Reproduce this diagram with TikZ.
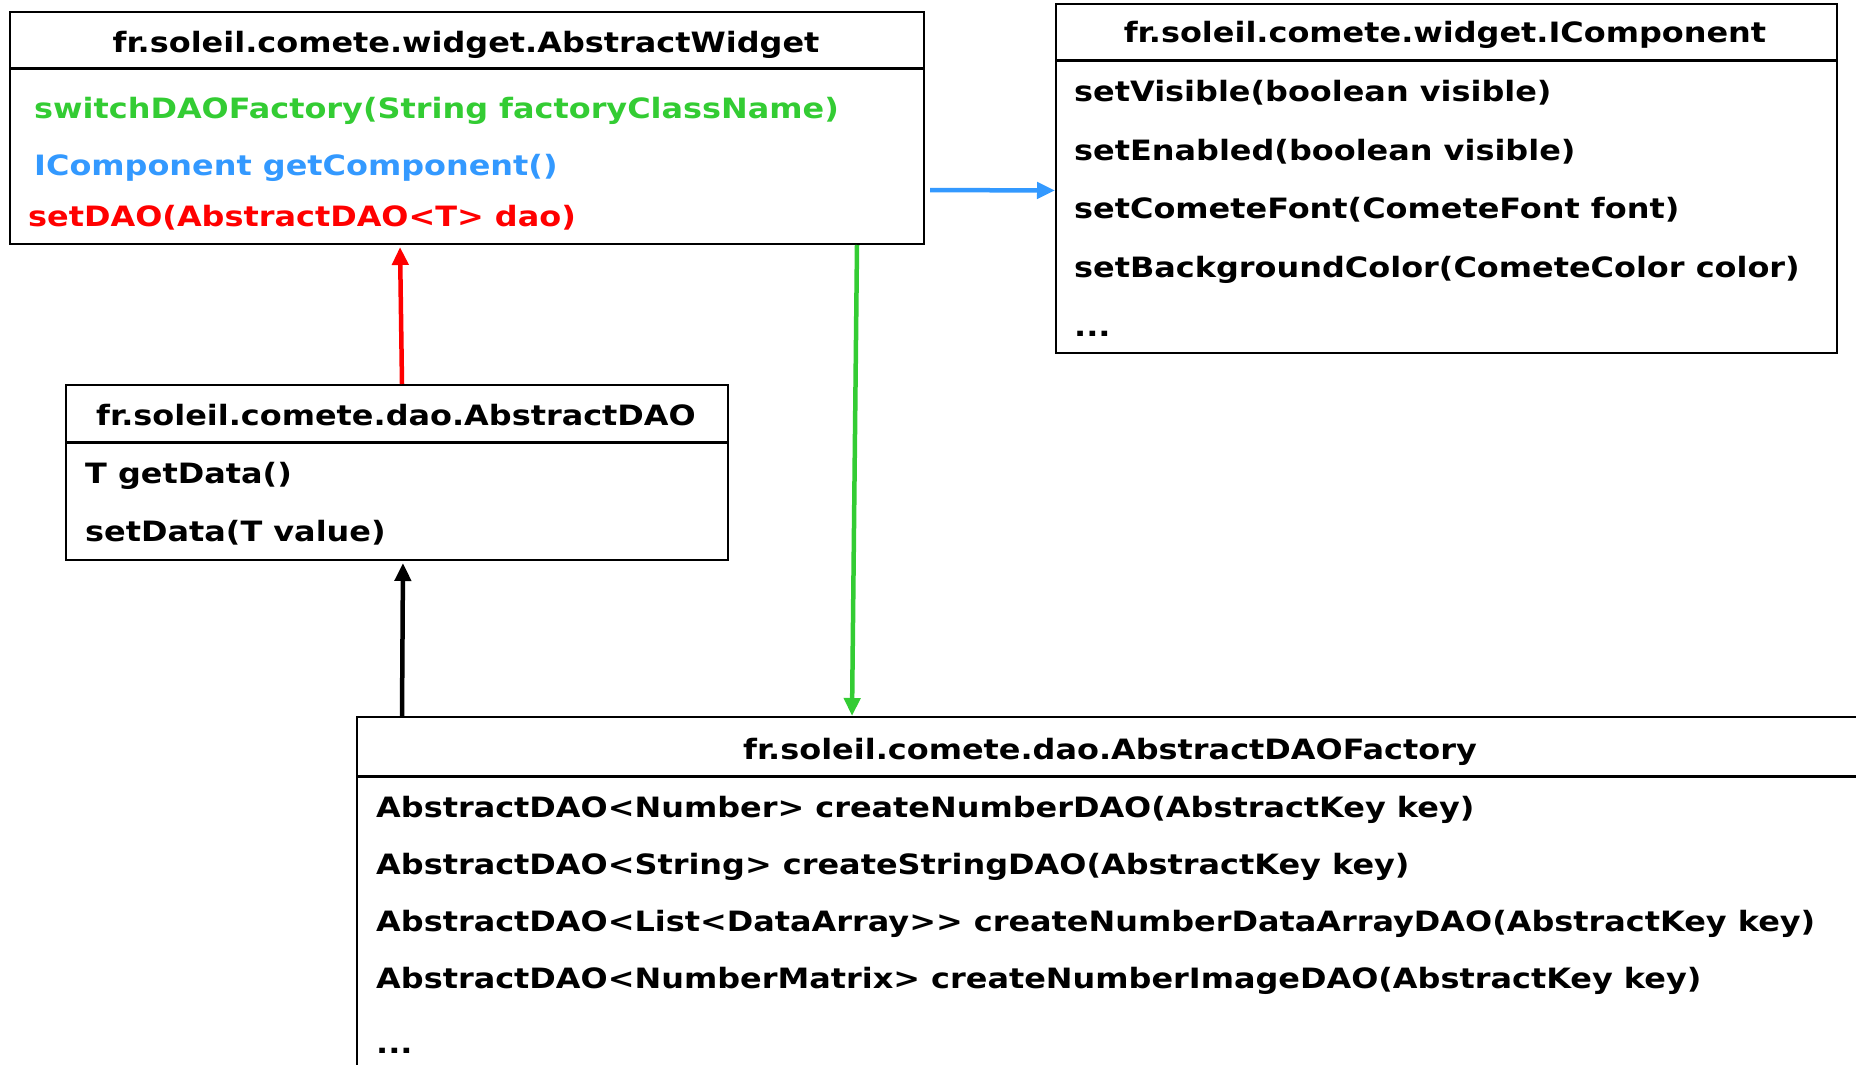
\documentclass[tikz,border=0pt]{standalone}
\usepackage{fontspec}
\setmainfont{DejaVu Sans}[FakeStretch=1.14]
\usepackage{tikz}
\usetikzlibrary{positioning,arrows.meta}

\definecolor{cgreen}{RGB}{51,204,51}
\definecolor{cblue}{RGB}{51,153,255}
\definecolor{cred}{RGB}{255,0,0}

\tikzset{
  classbox/.style={draw, line width=2pt, anchor=north west, inner sep=0pt},
  classname/.style={font=\fontsize{28}{34}\selectfont\bfseries, anchor=base, inner sep=0pt},
  meth/.style={font=\fontsize{28}{34}\selectfont\bfseries, anchor=base west, inner sep=0pt},
  sep/.style={line width=3pt},
  link/.style={line width=4.5pt, -{Triangle[length=18pt,width=16pt]}},
}

\begin{document}
\begin{tikzpicture}[x=1pt, y=-1pt]
   \useasboundingbox (0,0) rectangle (1856,1065);
   \clip (0,0) rectangle (1856,1065);

   % class boxes
   \node[classbox, minimum width=914pt, minimum height=232pt] (widget) at (9,11) {};
   \node[classbox, minimum width=781pt, minimum height=349pt] (icomp) at (1055,3) {};
   \node[classbox, minimum width=662pt, minimum height=175pt] (dao) at (65,384) {};
   \node[classbox, minimum width=1508pt, minimum height=400pt] (factory) at (356,716) {};

   \draw[sep] ([yshift=-58pt]widget.north west) -- ([yshift=-58pt]widget.north east);
   \draw[sep] ([yshift=-58pt]icomp.north west) -- ([yshift=-58pt]icomp.north east);
   \draw[sep] ([yshift=-58pt]dao.north west) -- ([yshift=-58pt]dao.north east);
   \draw[sep] ([yshift=-60pt]factory.north west) -- ([yshift=-60pt]factory.north east);

   % AbstractWidget
   \node[classname] (widgetname) at (466,53) {fr.soleil.comete.widget.AbstractWidget};
   \node[meth, text=cgreen] (switch) at (34,118) {switchDAOFactory(String factoryClassName)};
   \node[meth, text=cblue, below=57pt of switch.base west, anchor=base west] (getcomp) {IComponent getComponent()};
   \node[meth, text=cred] (setdao) at (28,226) {setDAO(AbstractDAO<T> dao)};

   % IComponent
   \node[classname] (icompname) at (1445,43) {fr.soleil.comete.widget.IComponent};
   \node[meth] (visible) at (1074,102) {setVisible(boolean visible)};
   \node[meth, below=58pt of visible.base west, anchor=base west] (enabled) {setEnabled(boolean visible)};
   \node[meth, below=58pt of enabled.base west, anchor=base west] (font) {setCometeFont(CometeFont font)};
   \node[meth, below=59pt of font.base west, anchor=base west] (bgcolor) {setBackgroundColor(CometeColor color)};
   \node[meth, below=59pt of bgcolor.base west, anchor=base west] (icompmore) {...};

   % AbstractDAO
   \node[classname] (daoname) at (396,425) {fr.soleil.comete.dao.AbstractDAO};
   \node[meth] (getdata) at (85,483) {T getData()};
   \node[meth, below=58pt of getdata.base west, anchor=base west] (setdata) {setData(T value)};

   % AbstractDAOFactory
   \node[classname] (factoryname) at (1110,759) {fr.soleil.comete.dao.AbstractDAOFactory};
   \node[meth] (numdao) at (376,817) {AbstractDAO<Number> createNumberDAO(AbstractKey key)};
   \node[meth, below=57pt of numdao.base west, anchor=base west] (strdao) {AbstractDAO<String> createStringDAO(AbstractKey key)};
   \node[meth, below=57pt of strdao.base west, anchor=base west] (arraydao) {AbstractDAO<List<DataArray>{}> createNumberDataArrayDAO(AbstractKey key)};
   \node[meth, below=57pt of arraydao.base west, anchor=base west] (imagedao) {AbstractDAO<NumberMatrix> createNumberImageDAO(AbstractKey key)};
   \node[meth, below=65pt of imagedao.base west, anchor=base west] (factorymore) {...};

   % links
   \draw[link, cred, shorten >=2pt] ([xshift=5pt]dao.north) -- ([xshift=-67pt]widget.south);
   \draw[link, black, shorten >=2pt] ([xshift=46pt]factory.north west) -- ([xshift=6pt]dao.south);
   \draw[link, cgreen] ([xshift=-68pt]widget.south east) -- ([xshift=496pt]factory.north west);
   \draw[link, cblue, shorten <=5pt] ([yshift=-62pt]widget.east) -- ([yshift=-12pt]icomp.west);
\end{tikzpicture}
\end{document}
